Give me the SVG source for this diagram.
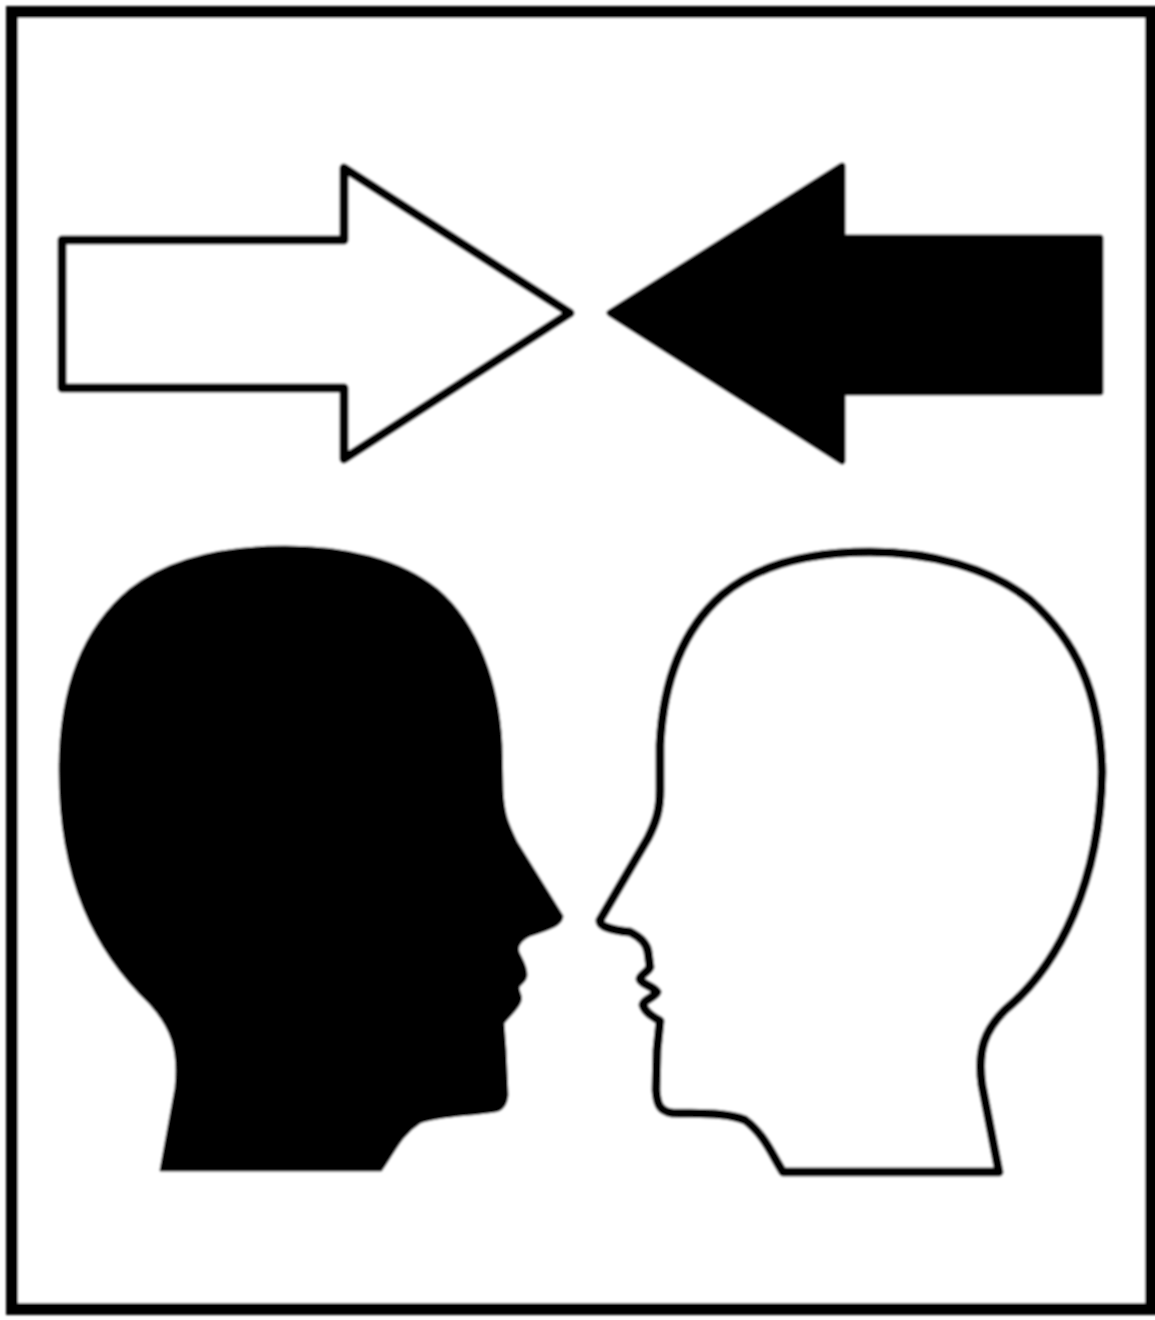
<svg xmlns="http://www.w3.org/2000/svg" width="1155" height="1320" viewBox="0 0 1155 1320">
<defs><filter id="soft" x="-2%" y="-2%" width="104%" height="104%"><feGaussianBlur stdDeviation="1.2"/></filter></defs>
<style>.k{fill:#000;stroke:#000;stroke-linejoin:round}.w{fill:#fff;stroke:#000;stroke-linejoin:round}</style>
<rect width="1155" height="1320" fill="#fff"/>
<g filter="url(#soft)">
<rect id="frame" x="12" y="12" width="1139" height="1297" fill="#fff" stroke="#000" stroke-width="12"/>
<g id="arrow-right"><path class="w" stroke-width="9" d="M62 240H344V168L570 313L344 459V388H62Z"/></g>
<g id="arrow-left"><path class="k" stroke-width="7" d="M1100 238H842V166L610 313L842 461V392H1100Z"/></g>
<g id="head-left"><path class="k" stroke-width="3" d="M161 1170L176 1088C180 1050 172 1027 150 1003C95 950 60 880 60 770C60 690 82 630 130 590C170 558 225 547 285 547C345 547 400 560 437 590C478 625 498 685 501 745L502 790C503 815 508 825 516 842L562 916C562 924 552 928 530 935C520 940 516 945 518 952C520 958 526 965 526 975C526 982 518 984 518 988C518 992 522 996 520 1001C518 1008 510 1014 503 1023L505 1050L507 1095C506 1105 502 1110 494 1111C470 1115 440 1115 420 1122C400 1135 395 1150 381 1170Z"/></g>
<g id="head-right"><path class="w" stroke-width="9" d="M783 1172H999L982 1085C977 1050 985 1030 1005 1010C1060 965 1100 880 1102 772C1100 690 1075 640 1030 600C990 568 930 552 870 552C805 552 755 567 722 595C680 632 663 685 660 745L660 790C660 810 656 822 648 838L600 920C599 926 610 930 630 932C642 938 647 945 648 952L650 967C648 972 640 975 640 979C641 984 655 987 657 992C655 997 643 1000 643 1005C645 1012 652 1016 660 1021L657 1050L656 1090C657 1105 660 1111 672 1113C700 1114 725 1112 745 1120C765 1135 772 1155 783 1172Z"/></g>
</g>
</svg>
